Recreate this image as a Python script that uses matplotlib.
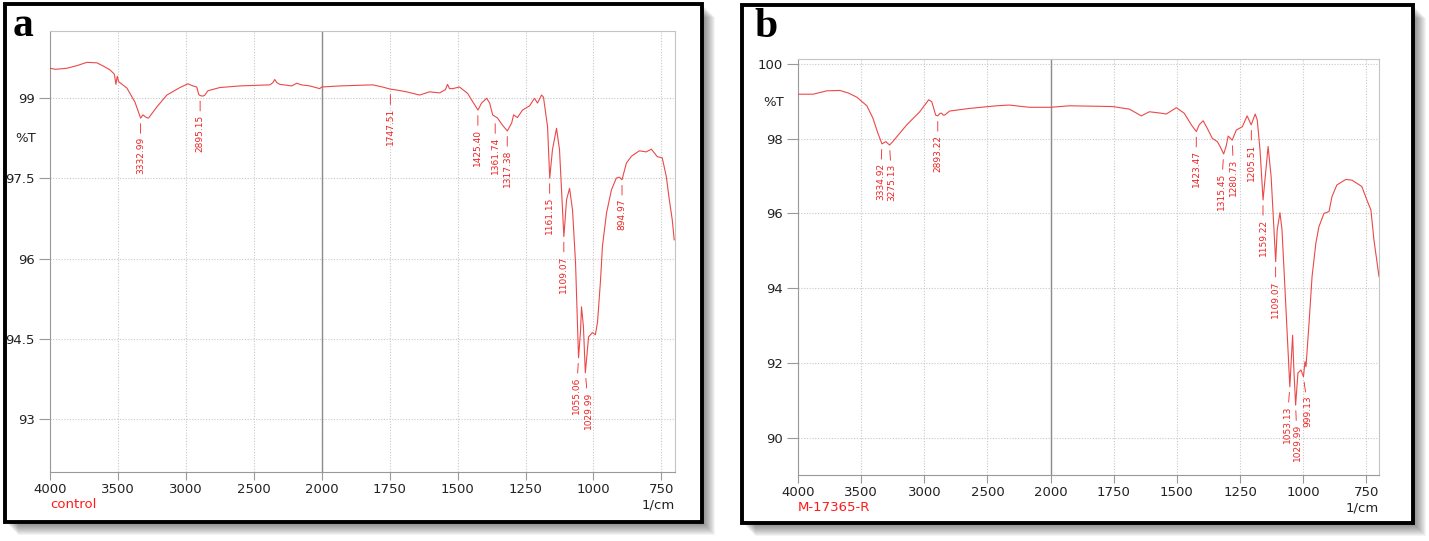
import numpy as np
import matplotlib
matplotlib.use('Agg')
from matplotlib import pyplot as plt
from matplotlib.patches import Rectangle

# .. FTIR spectra: control (a) and M-17365-R (b)

wn_a = [4000, 3960, 3875, 3800, 3728, 3654, 3600, 3559, 3530, 3525, 3515, 3505,
        3495, 3434, 3375, 3333, 3316, 3290, 3275, 3213, 3140, 3044, 2985, 2948,
        2920, 2905, 2895, 2875, 2860, 2838, 2750, 2603, 2382, 2360, 2346, 2330,
        2309, 2221, 2184, 2150, 2088, 2015, 2000, 1934, 1812, 1776, 1748, 1720,
        1688, 1640, 1603, 1566, 1545, 1537, 1530, 1518, 1493, 1463, 1445, 1425,
        1412, 1393, 1382, 1371, 1353, 1335, 1317, 1301, 1294, 1280, 1261, 1235,
        1217, 1206, 1191, 1184, 1169, 1161, 1151, 1136, 1125, 1109, 1099, 1088,
        1077, 1066, 1055, 1048, 1044, 1037, 1030, 1018, 1004, 993, 985, 974,
        967, 952, 934, 916, 905, 895, 879, 860, 831, 806, 787, 765, 747, 732,
        721, 710, 703]
T_a = [99.55, 99.53, 99.55, 99.60, 99.66, 99.65, 99.58, 99.52, 99.45, 99.42,
       99.25, 99.40, 99.30, 99.18, 98.92, 98.62, 98.68, 98.63, 98.62, 98.83,
       99.05, 99.19, 99.26, 99.22, 99.20, 99.06, 99.04, 99.03, 99.05, 99.13,
       99.19, 99.22, 99.24, 99.28, 99.34, 99.28, 99.25, 99.22, 99.27, 99.24,
       99.22, 99.17, 99.20, 99.22, 99.24, 99.20, 99.16, 99.14, 99.11, 99.05,
       99.11, 99.09, 99.15, 99.25, 99.17, 99.17, 99.20, 99.08, 98.93, 98.77,
       98.90, 98.99, 98.90, 98.68, 98.62, 98.49, 98.38, 98.53, 98.68, 98.63,
       98.77, 98.85, 98.99, 98.90, 99.05, 99.01, 98.46, 97.50, 98.03, 98.43,
       98.03, 96.41, 97.10, 97.31, 96.90, 95.92, 94.15, 94.62, 95.10, 94.73,
       93.87, 94.54, 94.62, 94.58, 94.82, 95.60, 96.23, 96.85, 97.28, 97.50,
       97.52, 97.47, 97.78, 97.91, 98.01, 97.99, 98.04, 97.90, 97.88, 97.53,
       97.10, 96.72, 96.35]
peaks_a = [3332.99, 2895.15, 1747.51, 1425.40, 1361.74, 1317.38, 1161.15,
           1109.07, 1055.06, 1029.99, 894.97]
peakT_a = [98.62, 99.04, 99.16, 98.77, 98.62, 98.38, 97.50, 96.41, 94.15,
           93.87, 97.47]

wn_b = [4000, 3881, 3820, 3771, 3668, 3600, 3534, 3455, 3407, 3368, 3335, 3305,
        3275, 3250, 3218, 3139, 3036, 2965, 2941, 2910, 2893, 2875, 2863, 2850,
        2839, 2799, 2641, 2428, 2325, 2250, 2167, 2000, 1925, 1755, 1688, 1641,
        1609, 1560, 1542, 1502, 1471, 1443, 1423, 1412, 1396, 1380, 1360, 1340,
        1329, 1315, 1305, 1297, 1281, 1265, 1241, 1222, 1206, 1190, 1182, 1171,
        1159, 1139, 1127, 1109, 1103, 1092, 1084, 1072, 1053, 1042, 1037, 1030,
        1021, 1009, 999, 993, 989, 977, 965, 950, 938, 918, 898, 886, 867, 831,
        807, 768, 748, 732, 720, 700]
T_b = [99.19, 99.19, 99.24, 99.28, 99.29, 99.22, 99.11, 98.88, 98.55, 98.15,
       97.86, 97.92, 97.83, 97.92, 98.05, 98.37, 98.72, 99.04, 98.99, 98.63,
       98.61, 98.68, 98.68, 98.63, 98.63, 98.74, 98.81, 98.88, 98.90, 98.87,
       98.84, 98.84, 98.88, 98.86, 98.79, 98.61, 98.72, 98.68, 98.66, 98.83,
       98.68, 98.37, 98.19, 98.37, 98.48, 98.28, 98.01, 97.92, 97.79, 97.59,
       97.80, 98.07, 97.96, 98.23, 98.32, 98.61, 98.37, 98.66, 98.50, 97.70,
       96.36, 97.79, 96.98, 94.71, 95.56, 96.02, 95.56, 93.95, 91.36, 92.74,
       91.81, 90.87, 91.73, 91.81, 91.63, 92.03, 91.90, 93.06, 94.31, 95.20,
       95.64, 96.00, 96.05, 96.45, 96.76, 96.91, 96.89, 96.72, 96.36, 96.09,
       95.29, 94.31]
peaks_b = [3334.92, 3275.13, 2893.22, 1423.47, 1315.45, 1280.73, 1205.51,
           1159.22, 1109.07, 1053.13, 1029.99, 999.13]
peakT_b = [97.86, 97.83, 98.61, 98.19, 97.59, 97.96, 98.37, 96.36, 94.71,
           91.36, 90.87, 91.63]

xticks = [4000, 3500, 3000, 2500, 2000, 1750, 1500, 1250, 1000, 750]
yticks_a = [99, 97.5, 96, 94.5, 93]
ylabels_a = ['99', '97.5', '96', '94.5', '93']
yticks_b = [100, 98, 96, 94, 92, 90]
ylabels_b = ['100', '98', '96', '94', '92', '90']

W, H = 1429, 541
red = '#ee2222'
plt.rcParams['font.family'] = ['DejaVu Sans']


# 2. Split wavenumber scale (x2 expansion below 2000) ..................
def fwd(x):
    x = np.asarray(x, dtype=float)
    return np.where(x > 2000, 2000 + (x - 2000) / 2, x)

def inv(t):
    t = np.asarray(t, dtype=float)
    return np.where(t > 2000, 2000 + (t - 2000) * 2, t)


def spectrum(ax, wn, T, pk, pkT, nudge, ylim, yt, ylab, name):
    ax.set_xscale('function', functions=(fwd, inv))
    ax.plot(wn, T, color='#ec4848', lw=0.8, zorder=3)
    ax.set_xlim(4000, 700)
    ax.set_ylim(*ylim)
    ax.set_xticks(xticks)
    ax.set_xticklabels([str(t) for t in xticks])
    ax.set_yticks(yt)
    ax.set_yticklabels(ylab)
    ax.grid(True, ls=(0, (1, 1.5)), color='#c8c8c8', lw=0.8)
    ax.axvline(2000, color='#8c8c8c', lw=1.0, zorder=2)
    for s in ['left', 'bottom']:
        ax.spines[s].set_color('#999999')
    for s in ['top', 'right']:
        ax.spines[s].set_color('#c4c4c4')
    ax.tick_params(axis='y', length=8, width=0.8, color='#999999', pad=3,
                   labelsize=9.5, labelcolor='#222222')
    ax.tick_params(axis='x', length=6, width=0.8, color='#999999', pad=2,
                   labelsize=9.5, labelcolor='#222222')
    for w, t in zip(pk, pkT):
        dx = nudge.get(w, 0)
        ax.annotate(f'{w:.2f}', xy=(w, t), xytext=(dx, -13.5),
                    textcoords='offset points', rotation=90, ha='center',
                    va='top', fontsize=6.5, color=red,
                    family=['Liberation Sans Narrow', 'DejaVu Sans'],
                    arrowprops=dict(arrowstyle='-', color=red, lw=0.6,
                                    shrinkA=0.5, shrinkB=4))
    ax.annotate(name, xy=(0, 0), xycoords='axes fraction', xytext=(0, -23.5),
                textcoords='offset points', color='#ff1a1a', fontsize=9.5,
                ha='left', va='center')
    ax.annotate('1/cm', xy=(1, 0), xycoords='axes fraction', xytext=(0, -23.5),
                textcoords='offset points', color='#222222', fontsize=9.5,
                ha='right', va='center')


# 3. Figure, frames and panels .......................................
fig = plt.figure(figsize=(W / 100, H / 100), dpi=100)
bg = fig.add_axes([0, 0, 1, 1], zorder=-5)
bg.set_xlim(0, W)
bg.set_ylim(H, 0)
bg.axis('off')

for x0, y0, w, h in [(5, 3.5, 697, 518.5), (742, 4.5, 671.5, 518)]:
    for d in range(2, 14):
        bg.add_patch(Rectangle((x0 + d, y0 + d), w, h, facecolor='#000000',
                               alpha=0.045, edgecolor='none'))
    bg.add_patch(Rectangle((x0, y0), w, h, facecolor='white',
                           edgecolor='black', lw=2.8))

bg.text(13, 36, 'a', fontsize=30, fontweight='bold',
        family=['Liberation Serif', 'DejaVu Serif'], va='baseline')
bg.text(754, 37, 'b', fontsize=30, fontweight='bold',
        family=['Liberation Serif', 'DejaVu Serif'], va='baseline')

ax_a = fig.add_axes([50 / W, (H - 472) / H, 625 / W, 441.3 / H])
spectrum(ax_a, wn_a, T_a, peaks_a, peakT_a, {1029.99: 2.4, 1055.06: -1.5},
         (92.02, 100.25), yticks_a, ylabels_a, 'control')

ax_b = fig.add_axes([798 / W, (H - 475) / H, 581 / W, 416.3 / H])
spectrum(ax_b, wn_b, T_b, peaks_b, peakT_b,
         {3334.92: -1.2, 3275.13: 1.5, 1315.45: -1.5, 1280.73: 1.0,
          1053.13: -2.0, 1029.99: 1.0, 999.13: 3.3},
         (89.0, 100.14), yticks_b, ylabels_b, 'M-17365-R')

bg.text(36, 138, '%T', fontsize=9.5, ha='right', va='center', color='#222222')
bg.text(784, 102, '%T', fontsize=9.5, ha='right', va='center', color='#222222')

fig.savefig('out.png', dpi=100)
